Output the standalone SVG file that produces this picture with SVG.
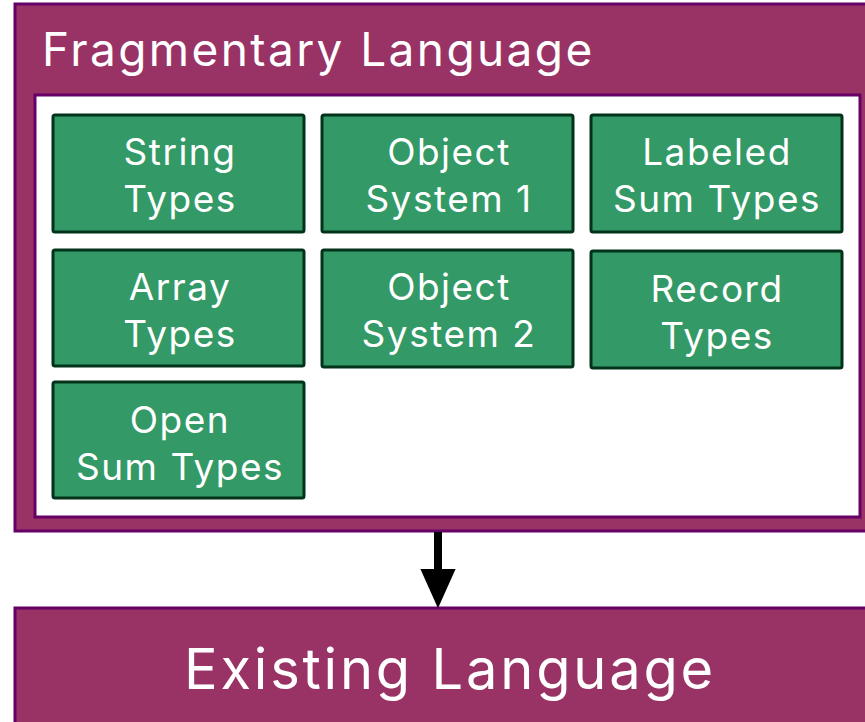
<svg xmlns="http://www.w3.org/2000/svg" width="865" height="722" viewBox="0 0 865 722">
<style>
.frame{fill:#993366;stroke:#660066;stroke-width:3}
.inner{fill:#ffffff;stroke:#660066;stroke-width:3}
.box{fill:#339966;stroke:#003319;stroke-width:3}
.t{fill:#ffffff;font-family:Inter,"Open Sans","Liberation Sans",sans-serif;font-size:37px;letter-spacing:1.5px;text-anchor:middle}
.title{fill:#ffffff;font-family:Inter,"Open Sans","Liberation Sans",sans-serif;font-size:46px;letter-spacing:2.4px}
.big{fill:#ffffff;font-family:Inter,"Open Sans","Liberation Sans",sans-serif;font-size:56px;letter-spacing:2.8px;text-anchor:middle}
</style>
<defs>
<marker id="arr" viewBox="0 0 10 10" refX="1" refY="5" markerWidth="4.9" markerHeight="4.4" preserveAspectRatio="none" markerUnits="strokeWidth" orient="auto">
<path d="M0,0 L10,5 L0,10 z" fill="#000"/>
</marker>
</defs>
<g id="fragmentary">
<rect class="frame" x="15" y="4" width="860" height="527"/>
<text class="title" x="42" y="66">Fragmentary Language</text>
<rect class="inner" x="35" y="95" width="825" height="422"/>
</g>
<g id="string"><rect class="box" x="53" y="115" width="251" height="117" rx="2"/><text class="t" x="180" y="165">String</text><text class="t" x="180" y="212">Types</text></g>
<g id="obj1"><rect class="box" x="322" y="115" width="251" height="117" rx="2"/><text class="t" x="449" y="165">Object</text><text class="t" x="449" y="212">System 1</text></g>
<g id="labeled"><rect class="box" x="591" y="115" width="251" height="117" rx="2"/><text class="t" x="717" y="165">Labeled</text><text class="t" x="717" y="212">Sum Types</text></g>
<g id="array"><rect class="box" x="53" y="250" width="251" height="116" rx="2"/><text class="t" x="180" y="300">Array</text><text class="t" x="180" y="347">Types</text></g>
<g id="obj2"><rect class="box" x="322" y="250" width="251" height="117" rx="2"/><text class="t" x="449" y="300">Object</text><text class="t" x="449" y="347">System 2</text></g>
<g id="record"><rect class="box" x="591" y="251" width="251" height="117" rx="2"/><text class="t" x="717" y="302">Record</text><text class="t" x="717" y="349">Types</text></g>
<g id="open"><rect class="box" x="53" y="382" width="251" height="116" rx="2"/><text class="t" x="180" y="433">Open</text><text class="t" x="180" y="480">Sum Types</text></g>
<g id="existing">
<rect class="frame" x="15" y="608" width="860" height="130"/>
<text class="big" x="450" y="689">Existing Language</text>
</g>
<g id="connectors">
<line x1="438" y1="532" x2="438" y2="573" stroke="#000" stroke-width="8" marker-end="url(#arr)"/>
</g>
</svg>
